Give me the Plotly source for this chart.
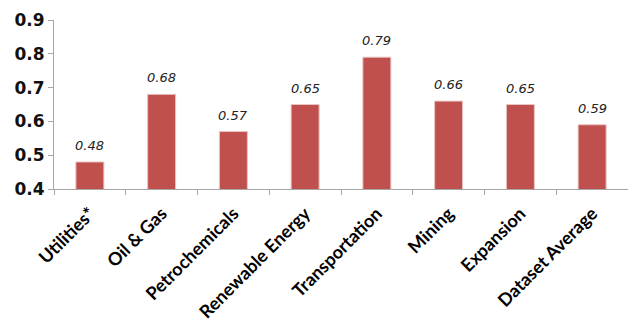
import plotly.graph_objects as go

categories = ["Utilities*", "Oil & Gas", "Petrochemicals", "Renewable Energy",
              "Transportation", "Mining", "Expansion", "Dataset Average"]
values = [0.48, 0.68, 0.57, 0.65, 0.79, 0.66, 0.65, 0.59]
y_ticks = [0.4, 0.5, 0.6, 0.7, 0.8, 0.9]

fig = go.Figure()
fig.add_trace(go.Bar(
    x=categories, y=values,
    marker=dict(color="#C0504D", line=dict(color="#E8C4C3", width=1)),
))
for c, v in zip(categories, values):
    fig.add_annotation(
        x=c, y=v, text=f"<i>{v:.2f}</i>", showarrow=False,
        yanchor="bottom", yshift=7,
        font=dict(family="DejaVu Sans", size=13, color="#222222"),
    )
fig.update_layout(
    width=628, height=322,
    margin=dict(l=54, r=0, t=20, b=130),
    plot_bgcolor="white", paper_bgcolor="white",
    bargap=0.61,
    showlegend=False,
)
fig.update_yaxes(
    range=[0.4, 0.9], tickvals=y_ticks, ticktext=[f"{t:.1f}" for t in y_ticks],
    showgrid=False, showline=True, linecolor="#A6A6A6", linewidth=1,
    ticks="outside", ticklen=5, tickcolor="#A6A6A6",
    tickfont=dict(family="DejaVu Sans", size=17, color="#111111", weight="bold"),
    zeroline=False,
)
fig.update_xaxes(
    showline=True, linecolor="#A6A6A6", linewidth=1,
    ticks="outside", ticklen=5, tickcolor="#A6A6A6", tickson="boundaries",
    tickangle=-45, ticklabelstandoff=6,
    tickfont=dict(family="Lato", size=18, color="#000000", weight="bold"),
)
fig.write_html("out.html")
